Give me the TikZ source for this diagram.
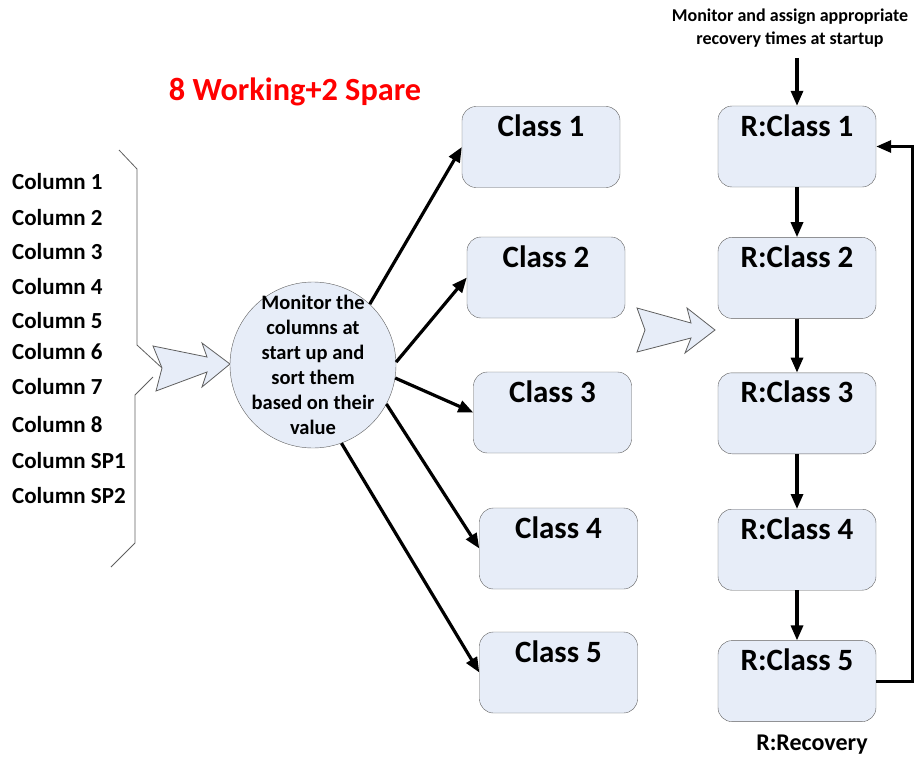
\documentclass[tikz,border=0pt]{standalone}
\usepackage{fontspec}
\setmainfont{Carlito}
\usetikzlibrary{positioning,arrows.meta}

\definecolor{boxfill}{RGB}{231,237,248}
\definecolor{edgegray}{RGB}{95,95,95}

\begin{document}
\begin{tikzpicture}[
        x=1pt, y=-1pt,
        classbox/.style={
            rectangle,
            draw=edgegray,
            fill=boxfill,
            rounded corners=14pt,
            minimum width=158pt,
            inner sep=0pt,
            text height=30pt,
            text depth=51pt,
            font=\fontsize{31}{34}\selectfont\bfseries
        },
        collabel/.style={
            anchor=west,
            inner sep=0pt,
            font=\fontsize{23}{25}\selectfont\bfseries
        },
        blockarrow/.style={
            draw=edgegray,
            fill=boxfill,
            line width=0.8pt
        },
        arrow/.style={
            -{Triangle[length=15pt,width=12pt]},
            line width=3.2pt
        }
    ]
    \useasboundingbox (0,0) rectangle (918,757);

    % Title
    \node[text=red, font=\fontsize{32.3}{35}\selectfont\bfseries] (title) at (295,92) {8 Working+2 Spare};

    % Input columns
    \foreach \i/\y/\txt in {1/182/Column 1, 2/218/Column 2, 3/252/Column 3,
                            4/287/Column 4, 5/321/Column 5, 6/352/Column 6,
                            7/387/Column 7, 8/425/Column 8, 9/461/Column SP1,
                            10/496/Column SP2}
        \node[collabel] (col\i) at (12,\y) {\txt};

    % Brace around the columns
    \draw[edgegray, line width=0.8pt] (119,150) -- (137,169) -- (137,345) -- (162,368);
    \draw[edgegray, line width=0.8pt] (153,377) -- (135,395) -- (135,543) -- (111,567);

    % Wide arrows
    \filldraw[blockarrow] (153,346) -- (207,357) -- (202,343) -- (230,364) -- (202,387)
        -- (207,372) -- (156,391) -- (162,368) -- cycle;
    \filldraw[blockarrow] (637,308) -- (691,323) -- (687,308) -- (715,330) -- (685,353)
        -- (691,338) -- (637,352) -- (645,330) -- cycle;

    % Sorting step
    \node[circle, draw=edgegray, fill=boxfill, minimum size=166pt, inner sep=-20pt,
          align=center, font=\fontsize{20.5}{25}\selectfont\bfseries] (mon) at (313,365)
        {Monitor the\\columns at\\start up and\\sort them\\based on their\\value};

    % Classes
    \node[classbox] (c1) at (541,147) {Class 1};
    \node[classbox] (c2) at (546,277.5) {Class 2};
    \node[classbox] (c3) at (552.5,412.5) {Class 3};
    \node[classbox] (c4) at (558.5,548.5) {Class 4};
    \node[classbox] (c5) at (558.5,672.5) {Class 5};

    % Recovery classes
    \node[classbox] (rc1) at (797,146.5) {R:Class 1};
    \node[classbox, below=50pt of rc1] (rc2) {R:Class 2};
    \node[classbox, below=54pt of rc2] (rc3) {R:Class 3};
    \node[classbox, below=55pt of rc3] (rc4) {R:Class 4};
    \node[classbox, below=50pt of rc4] (rc5) {R:Class 5};

    % Labels
    \node[align=center, font=\fontsize{18}{23}\selectfont\bfseries] (startup) at (790,28)
        {Monitor and assign appropriate\\recovery times at startup};
    \node[font=\fontsize{24}{26}\selectfont\bfseries] (legend) at (812,745) {R:Recovery};
    \coordinate (feed) at (797,58);

    % Connections
    \draw[arrow] (mon.47) -- (c1.west);
    \draw[arrow] (mon.2) -- (c2.west);
    \draw[arrow] (mon.-9) -- (c3.west);
    \draw[arrow] (mon.-28) -- (c4.west);
    \draw[arrow] (mon.-70) -- (c5.west);

    \draw[arrow] (feed) -- (rc1);
    \draw[arrow] (rc1) -- (rc2);
    \draw[arrow] (rc2) -- (rc3);
    \draw[arrow] (rc3) -- (rc4);
    \draw[arrow] (rc4) -- (rc5);

    % Loop back to the first recovery class
    \draw[arrow] (rc5.east) -- ++(36,0) |- (rc1.east);

\end{tikzpicture}
\end{document}
